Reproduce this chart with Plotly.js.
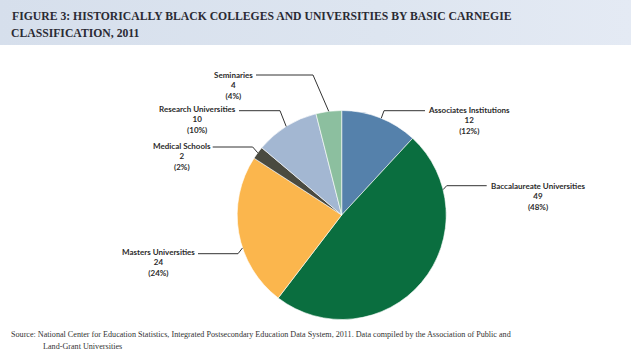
<!DOCTYPE html>
<html>
<head>
<meta charset="utf-8">
<script src="https://cdn.plot.ly/plotly-3.0.1.min.js"></script>
<style>
  html, body { margin: 0; padding: 0; background: #ffffff; }
  #wrap { position: relative; width: 631px; height: 357px; overflow: hidden; }
  #band { position: absolute; left: 0; top: 0; width: 631px; height: 45px;
          background: linear-gradient(to right, #d6dfec 0%, #dde5f0 60%, #e4eaf4 100%); }
  #chart { position: absolute; left: 0; top: 0; width: 631px; height: 357px; }
</style>
</head>
<body>
<div id="wrap"><div id="band"></div><div id="chart"></div></div>
<script>
// ---- data ----
var categories = ["Associates Institutions", "Baccalaureate Universities", "Masters Universities",
                  "Medical Schools", "Research Universities", "Seminaries"];
var counts = [12, 49, 24, 2, 10, 4];
var pctLabels = [12, 48, 24, 2, 10, 4];
var colors = ["#5581ab", "#0a6e3f", "#fbb64d", "#4a4a40", "#a3b7d2", "#8cbf9f"];

var titleLine1 = "FIGURE 3: HISTORICALLY BLACK COLLEGES AND UNIVERSITIES BY BASIC CARNEGIE";
var titleLine2 = "CLASSIFICATION, 2011";
var sourceLine1 = "Source: National Center for Education Statistics, Integrated Postsecondary Education Data System, 2011. Data compiled by the Association of Public and";
var sourceLine2 = "Land-Grant Universities";

// ---- layout (pixel geometry) ----
var W = 631, H = 357;
var cx = 341.7, cy = 215, R = 104.5;
// label placement: text anchor, middle-line y, horizontal leader segment, position of leader within slice
var labelLayout = [
  {side: "right", tx: 425.5, ty: 120.5, ly: 110.7, hx1: 384.0, hx2: 425.0, frac: 0.52},
  {side: "right", tx: 489.0, ty: 196.3, ly: 185.7, hx1: 446.7, hx2: 486.7, frac: 0.19},
  {side: "left",  tx: 197.0, ty: 262.7, ly: 253.7, hx1: 198.0, hx2: 238.0, frac: 0.40},
  {side: "left",  tx: 213.0, ty: 156.7, ly: 147.0, hx1: 212.7, hx2: 252.7, frac: 0.5},
  {side: "left",  tx: 238.0, ty: 119.7, ly: 110.7, hx1: 239.0, hx2: 280.0, frac: 0.5},
  {side: "left",  tx: 254.5, ty: 85.0,  ly: 75.0,  hx1: 256.0, hx2: 313.0, frac: 0.5}
];

function px(x) { return x / W; }
function py(y) { return 1 - y / H; }

var total = counts.reduce(function (a, b) { return a + b; }, 0);
var annotations = [], shapes = [];
var cum = 0;
for (var i = 0; i < counts.length; i++) {
  var L = labelLayout[i];
  var a0 = cum / total * 2 * Math.PI;
  var a1 = (cum + counts[i]) / total * 2 * Math.PI;
  cum += counts[i];
  var a = a0 + (a1 - a0) * L.frac;
  var ex = cx + R * Math.sin(a), ey = cy - R * Math.cos(a);
  var near = L.side === "right" ? L.hx1 : L.hx2;
  var far = L.side === "right" ? L.hx2 : L.hx1;
  shapes.push({
    type: "path", xref: "paper", yref: "paper",
    path: "M" + px(ex) + "," + py(ey) + " L" + px(near) + "," + py(L.ly) + " L" + px(far) + "," + py(L.ly),
    line: {color: "#333333", width: 1}
  });
  annotations.push({
    xref: "paper", yref: "paper", x: px(L.tx), y: py(L.ty),
    xanchor: L.side === "right" ? "left" : "right", yanchor: "middle",
    align: "center", showarrow: false,
    text: categories[i] + "<br>" + counts[i] + "<br>(" + pctLabels[i] + "%)",
    font: {family: "Lato, 'Open Sans', sans-serif", size: 8, color: "#2b2b2b", weight: "bold"}
  });
}

var titleFont = {family: "'Liberation Serif', serif", size: 11.7, color: "#2a2a33", weight: "bold"};
annotations.push({
  xref: "paper", yref: "paper", x: px(9), y: py(33), xanchor: "left", yanchor: "middle",
  showarrow: false, text: titleLine2, font: titleFont
});

var srcFont = {family: "'Liberation Serif', serif", size: 8.15, color: "#333333"};
annotations.push({
  xref: "paper", yref: "paper", x: px(9), y: py(334), xanchor: "left", yanchor: "middle",
  showarrow: false, text: sourceLine1, font: srcFont
});
annotations.push({
  xref: "paper", yref: "paper", x: px(40.5), y: py(346.5), xanchor: "left", yanchor: "middle",
  showarrow: false, text: sourceLine2, font: srcFont
});

var trace = {
  type: "pie",
  labels: categories,
  values: counts,
  sort: false,
  direction: "clockwise",
  rotation: 0,
  textinfo: "none",
  hoverinfo: "label+value+percent",
  marker: {colors: colors, line: {color: "#ffffff", width: 0.6}},
  domain: {x: [px(cx - R), px(cx + R)], y: [py(cy + R), py(cy - R)]},
  showlegend: false
};

var layout = {
  width: W, height: H,
  margin: {l: 0, r: 0, t: 0, b: 0},
  paper_bgcolor: "rgba(0,0,0,0)",
  plot_bgcolor: "rgba(0,0,0,0)",
  showlegend: false,
  title: {
    text: titleLine1,
    xref: "container", yref: "container",
    x: 12 / W, xanchor: "left",
    y: 1 - 15.8 / H, yanchor: "middle",
    font: titleFont
  },
  annotations: annotations,
  shapes: shapes
};

Plotly.newPlot("chart", [trace], layout, {displayModeBar: false, staticPlot: true});
</script>
</body>
</html>
